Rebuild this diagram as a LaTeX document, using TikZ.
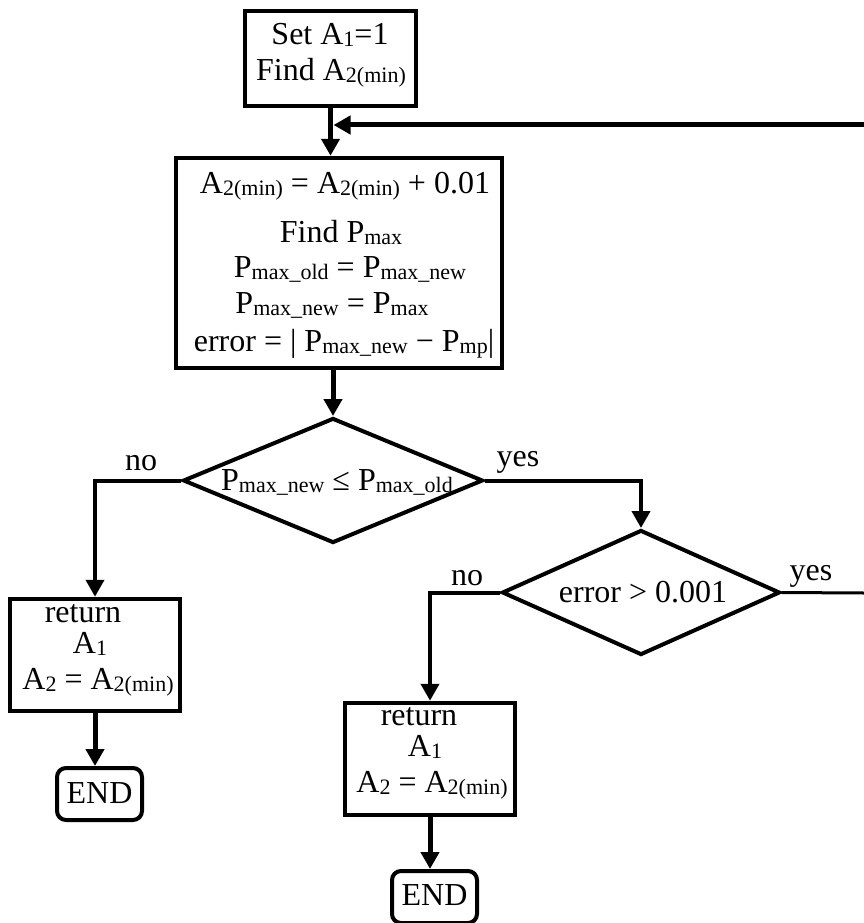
\documentclass[tikz,border=0pt]{standalone}
\usepackage{fontspec}
\setmainfont{Liberation Serif}
\usetikzlibrary{arrows.meta,shapes.geometric}
\newcommand\sbx[1]{\raisebox{-2pt}{\fontsize{22}{22}\selectfont #1}}
\begin{document}
\begin{tikzpicture}[x=1pt,y=-1pt,
  box/.style={draw,line width=4.5pt,inner sep=0pt,rectangle},
  endbox/.style={draw,line width=4pt,inner sep=0pt,rectangle,rounded corners=9pt,minimum width=85pt,minimum height=52pt},
  dia/.style={draw,line width=4pt,inner sep=0pt,diamond,minimum height=125pt},
  txt/.style={inner sep=0pt,anchor=base,font=\fontsize{32}{36}\selectfont},
  conn/.style={line width=5pt,-{Triangle[length=17pt,width=18pt]}},
]
\useasboundingbox (0,0) rectangle (864,923);
% boxes
\node[box,minimum width=171pt,minimum height=95pt] (b1) at (330.5,58.5) {};
\node[box,minimum width=326pt,minimum height=210pt] (b2) at (339,263) {};
\node[dia,minimum width=300pt] (d1) at (333,480.5) {};
\node[dia,minimum width=278pt] (d2) at (641,592.5) {};
\node[box,minimum width=170pt,minimum height=112pt] (b3) at (95,655) {};
\node[box,minimum width=170pt,minimum height=112pt] (b5) at (430,759) {};
\node[endbox] (e1) at (99.5,794) {};
\node[endbox] (e2) at (434.5,897) {};
% texts
\node[txt] (t11) at (330,45) {Set A\sbx{1}=1};
\node[txt] (t12) at (331,81) {Find A\sbx{2(min)}};
\node[txt] (t21) at (345,193) {A\sbx{2(min)} = A\sbx{2(min)} + 0.01};
\node[txt] (t22) at (341,242) {Find P\sbx{max}};
\node[txt] (t23) at (350,277) {P\sbx{max\_old} = P\sbx{max\_new}};
\node[txt] (t24) at (332,313) {P\sbx{max\_new} = P\sbx{max}};
\node[txt] (t25) at (344,351) {error = | P\sbx{max\_new} − P\sbx{mp}|};
\node[txt] (td1) at (337,490) {P\sbx{max\_new} ≤ P\sbx{max\_old}};
\node[txt] (td2) at (643,602) {error > 0.001};
\node[txt] (t31) at (83,622) {return};
\node[txt] (t32) at (90,653) {A\sbx{1}};
\node[txt] (t33) at (98,689) {A\sbx{2} = A\sbx{2(min)}};
\node[txt] (t51) at (419,725) {return};
\node[txt] (t52) at (425,756) {A\sbx{1}};
\node[txt] (t53) at (432,792) {A\sbx{2} = A\sbx{2(min)}};
\node[txt] (te1) at (99.5,803) {END};
\node[txt] (te2) at (434.5,905) {END};
\node[txt] (lno1) at (141,470) {no};
\node[txt] (lyes1) at (518,466) {yes};
\node[txt] (lno2) at (467,585) {no};
\node[txt] (lyes2) at (811,580) {yes};
% connectors
\coordinate (rin) at (864,125);
\coordinate (yout) at (864,593);
\draw[conn] (b1.south) -- (b1.south |- b2.north);
\draw[conn] (rin) -- ([xshift=3pt]b1.south |- rin);
\draw[conn] (d1.north |- b2.south) -- (d1.north);
\draw[conn,line width=4pt] (d1.west) -| (b3.north);
\draw[conn,line width=4pt] (d1.east) -| (d2.north);
\draw[conn,line width=4pt] (d2.west) -| (b5.north);
\draw[line width=3pt] (d2.east) -- (yout);
\draw[conn] (b3.south) -- (b3.south |- e1.north);
\draw[conn] (b5.south) -- (b5.south |- e2.north);
\end{tikzpicture}
\end{document}
